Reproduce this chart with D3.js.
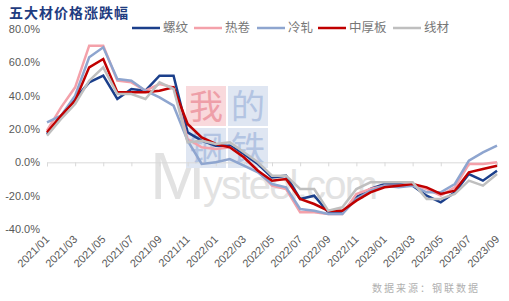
<!DOCTYPE html>
<html><head><meta charset="utf-8">
<script src="https://cdn.jsdelivr.net/npm/d3@7"></script>
<style>body{margin:0;background:#fff;}svg{display:block;font-family:"Liberation Sans",Arial,sans-serif;}</style>
</head><body><svg id="c" width="509" height="301"></svg>
<script>
const months = ["2021/01","2021/02","2021/03","2021/04","2021/05","2021/06","2021/07","2021/08","2021/09","2021/10","2021/11","2021/12",
"2022/01","2022/02","2022/03","2022/04","2022/05","2022/06","2022/07","2022/08","2022/09","2022/10","2022/11","2022/12",
"2023/01","2023/02","2023/03","2023/04","2023/05","2023/06","2023/07","2023/08","2023/09"];
const seriesNames = ["螺纹","热卷","冷轧","中厚板","线材"];
const rebar   = [17,28,38,48,52,38,44,43,52,52,18,13,10,10,5,-1,-9,-8,-22,-20,-30,-30,-21,-16,-13,-13,-14,-20,-24,-18,-7,-11,-5];
const hotCoil = [19,33,45,70,70,49,48,43,47,45,14,9,8,9,3,-5,-14,-16,-30,-30,-31,-31,-19,-16,-14,-14,-13,-16,-20,-15,-1,-1,0];
const coldRoll= [24,28,40,63,69,50,49,43,39,34,13,-1,0,2,-2,-6,-13,-15,-28,-29,-31,-31,-22,-17,-14,-15,-14,-18,-18,-13,1,6,10];
const plate   = [18,28,37,57,62,42,42,42,43,45,23,15,11,9,3,-5,-11,-10,-22,-25,-29,-29,-23,-18,-15,-14,-13,-15,-19,-17,-6,-4,-2];
const wire    = [16,26,35,49,57,41,41,38,48,44,12,13,11,12,6,0,-8,-8,-16,-16,-29,-27,-16,-12,-12,-12,-12,-22,-22,-19,-11,-14,-7];
const yTicks = [80,60,40,20,0,-20,-40];
const colors = ["#1B3F8B","#F4A1AA","#8EA5CF","#C00000","#BFBFBF"];
const allSeries = [rebar,hotCoil,coldRoll,plate,wire];

const svg = d3.select("#c");
const x = d3.scalePoint().domain(months).range([47,497]);
const y = d3.scaleLinear().domain([-40,80]).range([229,29]);

// title
svg.append("text").attr("x",9).attr("y",18).text("五大材价格涨跌幅")
  .attr("font-family","'Noto Sans CJK SC',sans-serif").attr("font-weight","bold")
  .attr("font-size",14).attr("letter-spacing",1).attr("fill","#1F3C80");

// watermark
const wm = svg.append("g");
wm.append("text").attr("x",150).attr("y",199).text("M").attr("font-size",66).attr("fill","#E2E2E2")
  .attr("font-family","'Liberation Sans',Arial,sans-serif");
wm.append("text").attr("x",203).attr("y",199).text("ysteel.com").attr("font-size",40).attr("letter-spacing",-1.8)
  .attr("fill","#E2E2E2").attr("font-family","'Liberation Sans',Arial,sans-serif");
const boxes = [{c:"我",bx:186,by:86,f:"#F9D9DC",t:"#EE9FA8"},{c:"的",bx:228,by:86,f:"#DFE6F2",t:"#B3C4E2"},
               {c:"钢",bx:186,by:128,f:"#DFE6F2",t:"#B3C4E2"},{c:"铁",bx:228,by:128,f:"#DFE6F2",t:"#B3C4E2"}];
boxes.forEach(b=>{
  wm.append("rect").attr("x",b.bx).attr("y",b.by).attr("width",40).attr("height",40).attr("fill",b.f);
  wm.append("text").attr("x",b.bx+20).attr("y",b.by+33).attr("text-anchor","middle").text(b.c)
    .attr("font-size",34).attr("font-family","'Noto Sans CJK SC',sans-serif").attr("fill",b.t);
});

// y axis labels
svg.append("g").selectAll("text").data(yTicks).join("text")
  .attr("x",40).attr("y",d=>y(d)).attr("dy","0.35em").attr("text-anchor","end")
  .attr("font-size",11).attr("fill","#595959").text(d=>d.toFixed(1)+"%");

// zero axis with ticks
const xAxis = d3.axisBottom(x).tickValues(months.filter((m,i)=>i%2===0)).tickSize(4).tickFormat("");
const ax = svg.append("g").attr("transform",`translate(0,${y(0)})`).call(xAxis);
ax.selectAll("path,line").attr("stroke","#D9D9D9");

// x labels at bottom
svg.append("g").selectAll("text").data(months.filter((m,i)=>i%2===0)).join("text")
  .attr("transform",d=>`translate(${x(d)+3},${240}) rotate(-45)`)
  .attr("text-anchor","end").attr("font-size",11).attr("fill","#595959").text(d=>d);

// lines
const line = d3.line().x((d,i)=>x(months[i])).y(d=>y(d));
allSeries.forEach((s,k)=>{
  svg.append("path").datum(s).attr("d",line).attr("fill","none")
    .attr("stroke",colors[k]).attr("stroke-width",2.5).attr("stroke-linejoin","miter");
});

// legend
const lx = [132,194,257,318,393];
seriesNames.forEach((n,k)=>{
  svg.append("line").attr("x1",lx[k]).attr("x2",lx[k]+28).attr("y1",28).attr("y2",28)
    .attr("stroke",colors[k]).attr("stroke-width",2.5);
  svg.append("text").attr("x",lx[k]+31).attr("y",28).attr("dy","0.35em").text(n)
    .attr("font-size",12.5).attr("fill","#767676").attr("font-family","'Noto Sans CJK SC',sans-serif");
});

// source
svg.append("text").attr("x",480).attr("y",292).attr("text-anchor","end").text("数据来源：钢联数据")
  .attr("font-size",10).attr("letter-spacing",2).attr("fill","#B0B0B0")
  .attr("font-family","'Noto Sans CJK SC',sans-serif");
</script></body></html>
